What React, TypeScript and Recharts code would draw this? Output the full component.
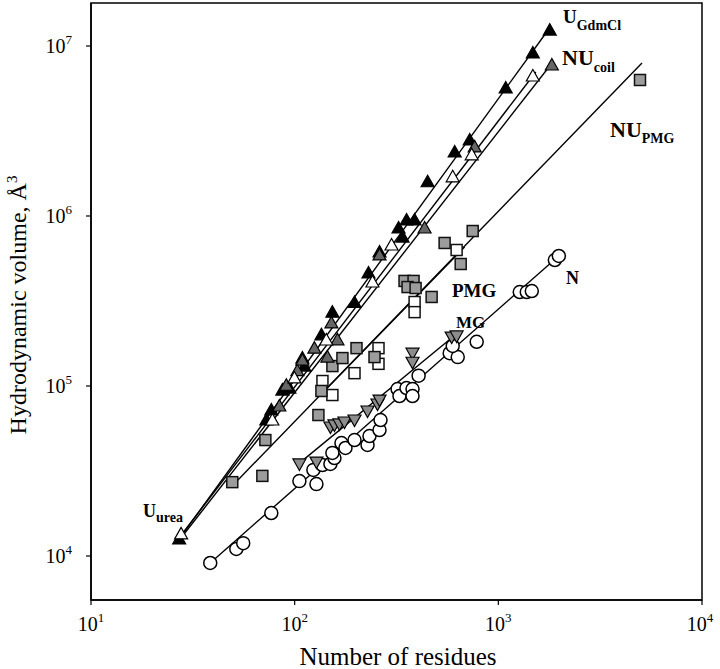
import { ScatterChart, Scatter, XAxis, YAxis, ReferenceArea } from 'recharts'

const X_TICKS = [10, 100, 1000, 10000]
const Y_TICKS = [1e4, 1e5, 1e6, 1e7]

// U GdmCl – filled black triangles
const GDM_X = [27.1, 72.6, 76.8, 87.0, 94.2, 109.1, 111.6, 135.3, 153.2, 196.7, 230.4, 261, 323.6, 338.6, 354.3, 388, 449.5, 610.4, 723.4, 1087, 1477, 1789]
const GDM_Y = [12600, 63100, 72300, 94700, 97300, 146000, 131000, 200000, 272000, 310000, 462000, 614000, 850000, 752000, 947000, 947000, 1590000, 2380000, 2800000, 5660000, 9100000, 12400000]

// U urea – open triangles
const URE_X = [27.7, 77.7, 99.7, 143, 241, 299, 597, 740, 1477]
const URE_Y = [13500, 63100, 111500, 186500, 409000, 675000, 1700000, 2290000, 6660000]

// NU coil – grey triangles
const COIL_X = [84.1, 91.0, 103.1, 109.1, 125, 144.8, 162.2, 151.5, 261, 434.5, 765.6, 1831]
const COIL_Y = [76300, 101000, 123000, 142000, 167000, 148000, 187000, 235000, 590000, 850000, 2550000, 7730000]

// NU PMG – grey squares
const NUPMG_X = [49.4, 69.4, 71.8, 130.8, 135.3, 153.2, 171.6, 201.2, 246.6, 346.3, 383.5, 358.4, 392.4, 470.4, 544.8, 653.4, 748.4, 4961]
const NUPMG_Y = [27200, 29600, 48100, 67500, 93500, 131000, 146000, 167000, 148000, 415000, 415000, 382000, 377000, 334000, 694000, 522000, 816000, 6310000]

// PMG – open squares
const PMG_X = [136.9, 153.2, 196.7, 258, 258, 388, 388, 624]
const PMG_Y = [107000, 88500, 119000, 167000, 135000, 312000, 272000, 631000]

// MG – grey inverted triangles
const MG_X = [105.5, 127.9, 149.8, 156.8, 165.9, 175.6, 196.7, 227.9, 255, 261, 379, 379, 590, 624]
const MG_Y = [34800, 35700, 57400, 59000, 59800, 61400, 63100, 71300, 78400, 82700, 156000, 138000, 194000, 197000]

// N – open circles
const N_X = [38.5, 51.7, 55.9, 76.8, 105.5, 127.9, 123.6, 136.9, 149.8, 156.8, 153.2, 169.7, 177.6, 196.7, 227.9, 233, 261, 264, 320, 327, 354, 379, 379, 406, 577, 632, 597, 783, 1274, 1379, 1460, 1894, 1982]
const N_Y = [9100, 11000, 11900, 17900, 27600, 26500, 32100, 34300, 34800, 37700, 40400, 46200, 43200, 48100, 45000, 50800, 55100, 63100, 96000, 87300, 97300, 96000, 87300, 115000, 156000, 148000, 172000, 182000, 357000, 357000, 362000, 551000, 582000]

// fitted power-law lines (end points)
const FIT_GDM = [[27.1, 12600], [1789, 12800000]]
const FIT_URE = [[27.1, 12800], [1528, 7030000]]
const FIT_COIL = [[27.7, 12800], [1852, 8050000]]
const FIT_NUPMG = [[48.8, 25500], [5075, 7940000]]
const FIT_PMG = [[132.3, 87300], [683, 657000]]
const FIT_MG = [[105.5, 35200], [631, 205000]]
const FIT_N = [[38.5, 9100], [2005, 590000]]

const pts = (xs: number[], ys: number[]) => xs.map((x, i) => ({ x, y: ys[i] }))
const fit = (p: number[][]) => p.map(([x, y]) => ({ x, y }))

const TriUp = ({ cx, cy, fill }: any) => (
  <polygon points={`${cx},${cy - 6.5} ${cx - 6.5},${cy + 5} ${cx + 6.5},${cy + 5}`} fill={fill} stroke="#000" strokeWidth={1.2} />
)
const TriDown = ({ cx, cy }: any) => (
  <polygon points={`${cx},${cy + 6.5} ${cx - 6.5},${cy - 5} ${cx + 6.5},${cy - 5}`} fill="#8c8c8c" stroke="#000" strokeWidth={1.2} />
)
const Sq = ({ cx, cy, fill }: any) => (
  <rect x={cx - 5.5} y={cy - 5.5} width={11} height={11} fill={fill} stroke="#111" strokeWidth={1.5} />
)
const Circ = ({ cx, cy }: any) => <circle cx={cx} cy={cy} r={6.5} fill="#fff" stroke="#000" strokeWidth={1.5} />
const NoDot = () => <g />

const XTick = ({ x, y, payload }: any) => (
  <text x={x} y={y} dy={24} textAnchor="middle" fontSize={20} fill="#000">
    10<tspan dy={-9} fontSize={13}>{Math.round(Math.log10(payload.value))}</tspan>
  </text>
)
const YTick = ({ x, y, payload }: any) => (
  <text x={x - 12} y={y} dy={7} textAnchor="end" fontSize={20} fill="#000">
    10<tspan dy={-9} fontSize={13}>{Math.round(Math.log10(payload.value))}</tspan>
  </text>
)

const lineStyle = { stroke: '#000', strokeWidth: 1.4 }

export default function App() {
  return (
    <div style={{ position: 'absolute', left: 0, top: 0, width: 720, height: 669, background: '#fff', fontFamily: '"Liberation Serif", serif' }}>
      <ScatterChart width={720} height={669} margin={{ top: 3, right: 18, bottom: 0, left: 0 }}>
        <XAxis
          dataKey="x" type="number" scale="log" domain={[10, 10000]} ticks={X_TICKS}
          allowDataOverflow height={69} tickSize={5} tick={XTick}
          axisLine={{ stroke: '#000', strokeWidth: 1.5 }} tickLine={{ stroke: '#000', strokeWidth: 1.2 }}
          label={{
            content: () => (
              <text x={398} y={665} textAnchor="middle" fontSize={25} fill="#000">Number of residues</text>
            ),
          }}
        />
        <YAxis
          dataKey="y" type="number" scale="log" domain={[5512, 17900000]} ticks={Y_TICKS}
          allowDataOverflow width={91} tickSize={5} tick={YTick}
          axisLine={{ stroke: '#000', strokeWidth: 1.5 }} tickLine={{ stroke: '#000', strokeWidth: 1.2 }}
          label={{
            content: () => (
              <text transform="translate(26,305) rotate(-90)" textAnchor="middle" fontSize={24} fill="#000">
                Hydrodynamic volume, Å<tspan dy={-9} fontSize={15}>3</tspan>
              </text>
            ),
          }}
        />
        <ReferenceArea x1={10} x2={10000} y1={5512} y2={17900000} fill="none" stroke="#000" strokeWidth={1.5} ifOverflow="visible" />

        <Scatter data={fit(FIT_GDM)} line={lineStyle} shape={NoDot} isAnimationActive={false} />
        <Scatter data={fit(FIT_URE)} line={lineStyle} shape={NoDot} isAnimationActive={false} />
        <Scatter data={fit(FIT_COIL)} line={lineStyle} shape={NoDot} isAnimationActive={false} />
        <Scatter data={fit(FIT_NUPMG)} line={lineStyle} shape={NoDot} isAnimationActive={false} />
        <Scatter data={fit(FIT_PMG)} line={lineStyle} shape={NoDot} isAnimationActive={false} />
        <Scatter data={fit(FIT_MG)} line={lineStyle} shape={NoDot} isAnimationActive={false} />
        <Scatter data={fit(FIT_N)} line={lineStyle} shape={NoDot} isAnimationActive={false} />

        <Scatter data={pts(N_X, N_Y)} shape={Circ} isAnimationActive={false} />
        <Scatter data={pts(MG_X, MG_Y)} shape={TriDown} isAnimationActive={false} />
        <Scatter data={pts(PMG_X, PMG_Y)} shape={(p: any) => <Sq {...p} fill="#fff" />} isAnimationActive={false} />
        <Scatter data={pts(NUPMG_X, NUPMG_Y)} shape={(p: any) => <Sq {...p} fill="#9c9c9c" />} isAnimationActive={false} />
        <Scatter data={pts(GDM_X, GDM_Y)} shape={(p: any) => <TriUp {...p} fill="#000" />} isAnimationActive={false} />
        <Scatter data={pts(COIL_X, COIL_Y)} shape={(p: any) => <TriUp {...p} fill="#666" />} isAnimationActive={false} />
        <Scatter data={pts(URE_X, URE_Y)} shape={(p: any) => <TriUp {...p} fill="#fff" />} isAnimationActive={false} />

        <g fontWeight="bold" fill="#000">
          <text x={563} y={23} fontSize={19}>U<tspan dy={7} fontSize={14}>GdmCl</tspan></text>
          <text x={562} y={65} fontSize={22}>NU<tspan dy={7} fontSize={14}>coil</tspan></text>
          <text x={610} y={137} fontSize={22}>NU<tspan dy={6} fontSize={14}>PMG</tspan></text>
          <text x={452} y={297} fontSize={19}>PMG</text>
          <text x={456} y={328} fontSize={17}>MG</text>
          <text x={566} y={284} fontSize={18}>N</text>
          <text x={143} y={517} fontSize={18}>U<tspan dy={5} fontSize={14}>urea</tspan></text>
        </g>
      </ScatterChart>
    </div>
  )
}
